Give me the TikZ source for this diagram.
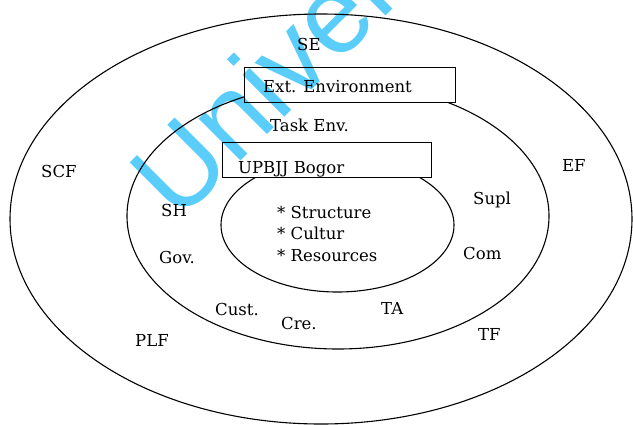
\documentclass[tikz,border=0pt]{standalone}
\usepackage{fontspec}
\setmainfont{DejaVu Serif}
\newfontfamily\wmfont{Liberation Sans}
\definecolor{wmcyan}{RGB}{90,205,250}
\begin{document}
\begin{tikzpicture}[x=1pt,y=-1pt,
  lbl/.style={font=\fontsize{16.5}{18}\selectfont, inner sep=0pt, anchor=base west},
  ring/.style={draw=black, line width=1.1pt},
  boxst/.style={draw=black, line width=0.9pt, fill=white, inner sep=0pt}]
\useasboundingbox (0,0) rectangle (633,424);
\fill[white] (0,0) rectangle (633,424);
% rings
\draw[ring] (321,219) ellipse [x radius=311pt, y radius=205pt];
\draw[ring] (338,216) ellipse [x radius=211pt, y radius=133pt];
\draw[ring] (337.5,225) ellipse [x radius=116.5pt, y radius=67pt];
% boxes
\node[boxst, minimum width=211pt, minimum height=35pt] (extbox) at (349.5,84.5) {};
\node[boxst, minimum width=209pt, minimum height=35pt] (upbox) at (326.5,159.5) {};
% labels
\node[lbl] (se) at (297,50) {SE};
\node[lbl] (ext) at (263,92) {Ext. Environment};
\node[lbl] (task) at (270,131) {Task Env.};
\node[lbl] (up) at (238,173) {UPBJJ Bogor};
\node[lbl] (scf) at (41,177) {SCF};
\node[lbl] (ef) at (562,171) {EF};
\node[lbl] (sh) at (161,216) {SH};
\node[lbl] (supl) at (473,204) {Supl};
\node[lbl] (str) at (277,218) {* Structure};
\node[lbl] (cul) at (277,239) {* Cultur};
\node[lbl] (res) at (277,261) {* Resources};
\node[lbl] (gov) at (159,263) {Gov.};
\node[lbl] (com) at (463,259) {Com};
\node[lbl] (cust) at (215,315) {Cust.};
\node[lbl] (cre) at (281,329) {Cre.};
\node[lbl] (ta) at (381,314) {TA};
\node[lbl] (tf) at (478,340) {TF};
\node[lbl] (plf) at (135,346) {PLF};
% watermark
\begin{scope}[blend mode=multiply]
\node[font=\wmfont\fontsize{112}{116}\selectfont, text=wmcyan, rotate=45, anchor=base west, inner sep=0pt] (wmark) at (178,224) {Univer};
\end{scope}
\end{tikzpicture}
\end{document}
